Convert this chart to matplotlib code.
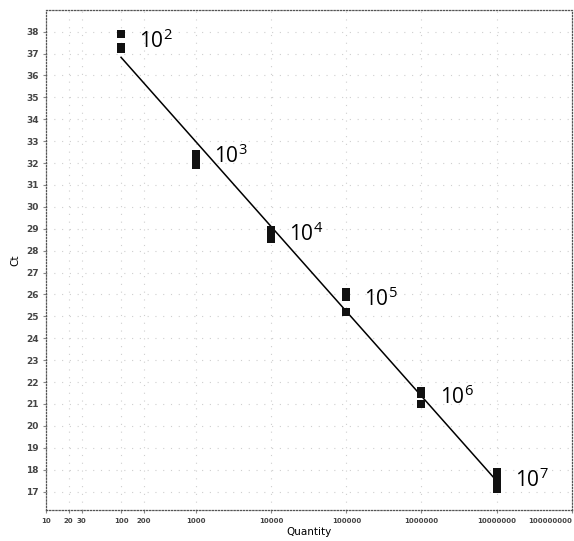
import matplotlib
matplotlib.use("Agg")
import matplotlib.pyplot as plt
import numpy as np

# standard curve data
quantity = [100, 100, 100,
            1000, 1000, 1000,
            10000, 10000, 10000,
            100000, 100000, 100000,
            1000000, 1000000, 1000000,
            10000000, 10000000, 10000000, 10000000]
ct = [37.9, 37.3, 37.2,
      32.4, 32.2, 31.9,
      28.95, 28.75, 28.55,
      26.1, 25.9, 25.2,
      21.6, 21.45, 21.0,
      17.9, 17.6, 17.35, 17.1]

labels = [r"$\mathregular{10^{2}}$", r"$\mathregular{10^{3}}$", r"$\mathregular{10^{4}}$",
          r"$\mathregular{10^{5}}$", r"$\mathregular{10^{6}}$", r"$\mathregular{10^{7}}$"]
label_qty = [100, 1000, 10000, 100000, 1000000, 10000000]
label_ct = [37.55, 32.3, 28.75, 25.8, 21.3, 17.5]

xticks = [10, 20, 30, 100, 200, 1000, 10000, 100000, 1000000, 10000000, 100000000]
yticks = list(range(17, 39))

fig = plt.figure(figsize=(5.74, 5.41), dpi=100)
ax = fig.add_axes([0.080, 0.057, 0.916, 0.925])

ax.set_xscale("log")
ax.set_xlim(10, 1e8)
ax.set_ylim(16.15, 39)

# grid
ax.grid(True, which="major", color="#cfcfcf", linestyle=(0, (1, 6)), linewidth=0.8)

# regression line
lx = np.log10(quantity)
slope, icpt = np.polyfit(lx, ct, 1)
xs = np.array([100, 10000000])
ax.plot(xs, slope * np.log10(xs) + icpt, color="black", lw=1.1, zorder=2)

ax.scatter(quantity, ct, marker="s", s=40, color="#111111", zorder=3, linewidths=0)

for q, c, t in zip(label_qty, label_ct, labels):
    ax.annotate(t, (q, c), xytext=(13, 0), textcoords="offset points",
                va="center", ha="left", fontsize=15, family="Open Sans")

ax.set_xticks(xticks)
ax.set_xticklabels([str(v) for v in xticks])
ax.minorticks_off()
ax.set_yticks(yticks)
ax.tick_params(axis="y", labelsize=6.5, length=2, color="#888888", pad=3)
ax.tick_params(axis="x", labelsize=5, length=2, color="#888888", pad=4)
for lab in ax.get_yticklabels() + ax.get_xticklabels():
    lab.set_fontweight("bold")
    lab.set_color("#444444")
ax.get_xticklabels()[-1].set_horizontalalignment("right")

ax.set_xlabel("Quantity", fontsize=7.5, labelpad=2)
ax.set_ylabel("Ct", fontsize=7.5, labelpad=4)

for sp in ax.spines.values():
    sp.set_linestyle((0, (1, 1.5)))
    sp.set_color("#555555")
    sp.set_linewidth(0.9)

fig.savefig("out.png", dpi=100)
